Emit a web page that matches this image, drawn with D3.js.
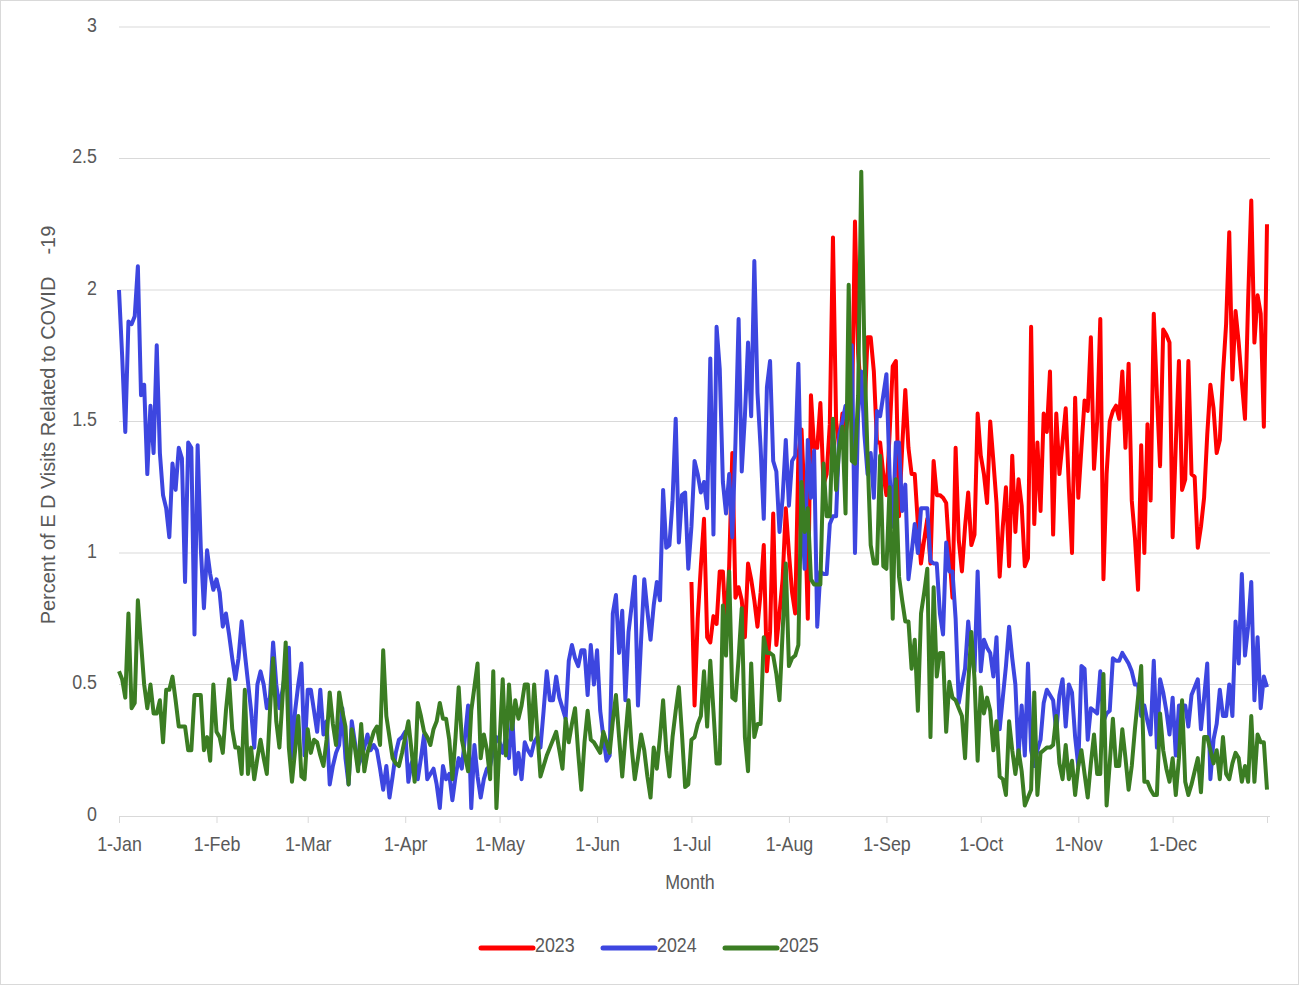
<!DOCTYPE html>
<html>
<head>
<meta charset="utf-8">
<script src="https://cdn.jsdelivr.net/npm/d3@7"></script>
<style>
  body { margin: 0; background: #fff; }
  svg text { font-family: "Liberation Sans", Arial, sans-serif; fill: #595959; }
</style>
</head>
<body>
<svg id="chart" width="1300" height="986"></svg>
<script>
// month ticks (day of year, leap-year axis)
const monthDays = [0, 31, 60, 91, 121, 152, 182, 213, 244, 274, 305, 335];
const monthLabels = ['1-Jan', '1-Feb', '1-Mar', '1-Apr', '1-May', '1-Jun', '1-Jul', '1-Aug', '1-Sep', '1-Oct', '1-Nov', '1-Dec'];
const yTicks = [0, 0.5, 1, 1.5, 2, 2.5, 3];

const seriesNames = ['2023', '2024', '2025'];
const seriesColors = ['#ff0000', '#3d46e0', '#3b7d23'];
// first day of year for each series
const seriesStart = [182, 0, 0];

// 2023: data begins 1-Jul
const values2023 = [
  0.89,0.42,0.75,0.95,1.13,0.68,0.66,0.76,0.73,0.93,
  0.93,0.70,0.95,1.38,0.83,0.87,0.82,0.68,0.96,0.90,
  0.82,0.72,0.85,1.03,0.55,0.70,1.15,0.65,0.77,0.90,
  1.17,1.00,0.85,0.77,1.37,1.47,1.19,0.75,1.60,1.40,
  1.40,1.57,1.26,1.30,1.49,2.20,1.50,1.40,1.53,1.45,
  1.55,1.50,2.26,1.76,1.60,1.53,1.82,1.82,1.69,1.42,
  1.42,1.30,1.22,1.45,1.71,1.73,1.14,1.40,1.62,1.40,
  1.30,1.30,1.11,0.96,1.05,1.13,0.96,1.35,1.22,1.22,
  1.21,1.19,1.00,0.83,1.40,1.05,0.93,1.10,1.23,1.03,
  1.07,1.53,1.37,1.30,1.19,1.50,1.35,1.19,0.91,1.10,
  1.25,0.95,1.37,1.08,1.28,1.18,0.95,0.98,1.86,1.11,
  1.42,1.16,1.53,1.46,1.69,1.07,1.53,1.30,1.42,1.55,
  1.25,1.00,1.59,1.21,1.40,1.58,1.54,1.82,1.32,1.50,
  1.89,0.90,1.30,1.50,1.54,1.56,1.51,1.69,1.40,1.72,
  1.20,1.06,0.86,1.41,1.00,1.49,1.20,1.91,1.60,1.33,
  1.85,1.83,1.80,1.06,1.41,1.73,1.24,1.28,1.73,1.30,
  1.29,1.02,1.10,1.21,1.45,1.64,1.55,1.38,1.43,1.68,
  1.87,2.22,1.66,1.92,1.80,1.65,1.51,1.96,2.34,1.80,
  1.98,1.91,1.48,2.25
];

const values2024 = [
  2.00,1.75,1.46,1.88,1.87,1.90,2.09,1.60,1.64,1.30,
  1.56,1.38,1.79,1.38,1.22,1.17,1.06,1.34,1.24,1.40,
  1.36,0.89,1.42,1.40,0.69,1.41,1.02,0.79,1.01,0.92,
  0.86,0.90,0.85,0.72,0.77,0.69,0.60,0.52,0.60,0.74,
  0.62,0.51,0.40,0.26,0.50,0.55,0.50,0.41,0.45,0.66,
  0.50,0.41,0.48,0.56,0.64,0.22,0.40,0.50,0.58,0.23,
  0.48,0.48,0.40,0.32,0.48,0.31,0.36,0.12,0.19,0.24,
  0.27,0.41,0.22,0.12,0.36,0.28,0.19,0.22,0.26,0.31,
  0.25,0.27,0.25,0.18,0.10,0.19,0.07,0.15,0.24,0.29,
  0.30,0.32,0.13,0.20,0.23,0.14,0.22,0.31,0.14,0.16,
  0.18,0.12,0.03,0.19,0.14,0.16,0.06,0.15,0.22,0.18,
  0.30,0.42,0.03,0.27,0.15,0.07,0.14,0.18,0.19,0.25,
  0.30,0.28,0.24,0.30,0.22,0.39,0.16,0.24,0.14,0.28,
  0.25,0.23,0.28,0.30,0.26,0.40,0.55,0.44,0.44,0.53,
  0.45,0.41,0.37,0.59,0.65,0.60,0.57,0.63,0.63,0.46,
  0.65,0.50,0.63,0.40,0.30,0.21,0.23,0.77,0.84,0.62,
  0.78,0.44,0.70,0.80,0.91,0.42,0.67,0.90,0.78,0.67,
  0.80,0.89,0.82,1.24,1.02,1.03,1.20,1.51,1.04,1.22,
  1.23,0.94,1.10,1.35,1.30,1.23,1.27,1.17,1.74,1.07,
  1.86,1.70,1.27,1.15,1.30,1.06,1.42,1.89,1.31,1.52,
  1.80,1.52,2.11,1.61,1.40,1.13,1.63,1.73,1.35,1.31,
  1.08,1.21,1.43,1.18,1.35,1.37,1.72,1.18,0.94,1.43,
  1.21,1.39,0.72,0.93,0.92,0.92,1.11,1.14,1.14,1.45,
  1.50,1.56,1.56,1.79,1.00,1.53,1.69,1.45,1.30,1.38,
  1.21,1.54,1.52,1.60,1.68,1.30,1.10,1.42,1.42,1.16,
  1.26,0.90,1.00,1.11,1.00,1.17,1.17,1.17,0.97,0.96,
  0.96,0.77,0.69,1.04,0.93,0.93,0.75,0.43,0.50,0.56,
  0.74,0.62,0.55,0.93,0.55,0.67,0.64,0.62,0.53,0.68,
  0.33,0.45,0.57,0.72,0.60,0.50,0.23,0.42,0.23,0.58,
  0.25,0.19,0.25,0.29,0.43,0.48,0.46,0.44,0.32,0.46,
  0.52,0.34,0.50,0.47,0.30,0.19,0.57,0.56,0.29,0.41,
  0.40,0.39,0.55,0.36,0.39,0.40,0.60,0.59,0.59,0.62,
  0.60,0.58,0.55,0.50,0.50,0.38,0.42,0.36,0.31,0.59,
  0.26,0.52,0.47,0.40,0.31,0.45,0.23,0.42,0.42,0.42,
  0.34,0.46,0.49,0.52,0.33,0.45,0.58,0.14,0.29,0.35,
  0.48,0.38,0.38,0.50,0.38,0.74,0.58,0.92,0.61,0.72,
  0.89,0.44,0.68,0.41,0.53,0.49
];

const values2025 = [
  0.55,0.52,0.45,0.77,0.41,0.43,0.82,0.66,0.50,0.41,
  0.50,0.39,0.39,0.44,0.28,0.48,0.48,0.53,0.44,0.34,
  0.34,0.34,0.25,0.25,0.46,0.46,0.46,0.25,0.30,0.21,
  0.50,0.32,0.30,0.24,0.40,0.52,0.33,0.26,0.26,0.16,
  0.48,0.16,0.26,0.14,0.22,0.29,0.22,0.16,0.40,0.60,
  0.36,0.26,0.45,0.66,0.26,0.13,0.25,0.38,0.15,0.14,
  0.33,0.24,0.29,0.28,0.23,0.19,0.29,0.47,0.35,0.27,
  0.47,0.40,0.34,0.12,0.33,0.26,0.17,0.35,0.17,0.24,
  0.28,0.32,0.34,0.27,0.63,0.38,0.30,0.22,0.20,0.19,
  0.24,0.30,0.36,0.25,0.13,0.43,0.38,0.32,0.30,0.27,
  0.33,0.36,0.43,0.37,0.37,0.29,0.14,0.30,0.49,0.29,
  0.23,0.17,0.40,0.49,0.58,0.22,0.31,0.25,0.14,0.55,
  0.03,0.28,0.52,0.23,0.50,0.33,0.44,0.37,0.42,0.50,
  0.50,0.29,0.50,0.32,0.15,0.19,0.23,0.26,0.29,0.32,
  0.25,0.18,0.37,0.28,0.35,0.41,0.24,0.10,0.28,0.40,
  0.29,0.28,0.26,0.24,0.32,0.28,0.24,0.36,0.46,0.30,
  0.15,0.30,0.44,0.26,0.14,0.22,0.31,0.25,0.15,0.07,
  0.26,0.18,0.30,0.44,0.25,0.15,0.30,0.40,0.49,0.31,
  0.11,0.12,0.29,0.30,0.35,0.38,0.55,0.34,0.59,0.40,
  0.20,0.20,0.80,0.61,0.93,0.45,0.44,0.60,0.79,0.30,
  0.17,0.58,0.30,0.35,0.35,0.68,0.62,0.62,0.61,0.54,
  0.44,0.70,0.96,0.57,0.60,0.61,0.65,1.27,1.08,1.17,
  0.90,0.88,0.88,0.88,1.34,1.14,1.14,1.51,1.24,1.40,
  1.48,1.15,2.02,1.35,1.34,1.60,2.45,1.76,1.37,1.03,
  0.96,0.96,1.37,0.95,0.94,1.25,0.75,1.28,0.91,0.82,
  0.74,0.74,0.56,0.67,0.40,0.77,0.85,0.94,0.30,0.87,
  0.53,0.62,0.62,0.32,0.51,0.45,0.44,0.41,0.38,0.22,
  0.50,0.70,0.52,0.21,0.49,0.39,0.45,0.40,0.25,0.36,
  0.15,0.14,0.08,0.36,0.25,0.16,0.25,0.17,0.04,0.07,
  0.10,0.47,0.08,0.24,0.25,0.26,0.26,0.27,0.38,0.20,
  0.14,0.27,0.14,0.21,0.08,0.19,0.25,0.16,0.07,0.20,
  0.31,0.16,0.16,0.54,0.04,0.20,0.37,0.19,0.19,0.33,
  0.22,0.10,0.19,0.33,0.45,0.57,0.13,0.13,0.10,0.08,
  0.08,0.39,0.25,0.18,0.13,0.22,0.08,0.22,0.44,0.13,
  0.08,0.12,0.17,0.22,0.09,0.30,0.30,0.25,0.20,0.25,
  0.14,0.30,0.16,0.14,0.20,0.24,0.22,0.13,0.19,0.13,
  0.38,0.13,0.31,0.28,0.28,0.10
];

const seriesValues = [values2023, values2024, values2025];

const FONT_SIZE = 21;
const NARROW = 'scale(0.85,1)';   // mimic the narrow font of the original

const svg = d3.select('#chart');

// outer frame
svg.append('rect')
    .attr('x', 0.5).attr('y', 0.5)
    .attr('width', 1298).attr('height', 984)
    .attr('fill', '#fff')
    .attr('stroke', '#d9d9d9');

const xScale = d3.scaleLinear().domain([0, 365]).range([119, 1267]);
const yScale = d3.scaleLinear().domain([0, 3]).range([816, 27]);

renderAxes();
renderLines();
renderLegend();

function narrowText(x, y, str, anchor, rotate, squeeze) {
    const g = svg.append('g')
        .attr('transform', `translate(${x},${y})` + (rotate ? ` rotate(${rotate})` : ''));
    return g.append('text')
        .attr('transform', squeeze || NARROW)
        .attr('text-anchor', anchor)
        .attr('font-size', FONT_SIZE)
        .style('white-space', 'pre')
        .text(str);
}

function renderAxes() {
    // horizontal gridlines
    svg.append('g')
        .selectAll('line')
        .data(yTicks.filter(t => t > 0))
        .join('line')
        .attr('x1', 119).attr('x2', 1270)
        .attr('y1', d => yScale(d)).attr('y2', d => yScale(d))
        .attr('stroke', '#d9d9d9')
        .attr('stroke-width', 1);

    const yAxis = d3.axisLeft(yScale).tickValues(yTicks).tickSize(0).tickPadding(0).tickFormat(d3.format('~g'));
    const yG = svg.append('g')
        .attr('transform', 'translate(97,0)')
        .call(yAxis);
    yG.select('.domain').remove();
    yG.selectAll('text')
        .attr('font-size', FONT_SIZE)
        .attr('x', 0)
        .attr('dy', 4)
        .attr('transform', NARROW);

    const xAxis = d3.axisBottom(xScale)
        .tickValues(monthDays.concat([365]))
        .tickSize(7)
        .tickFormat((d, i) => monthLabels[i] || '');
    const xG = svg.append('g')
        .attr('transform', `translate(0,${yScale(0)})`)
        .call(xAxis);
    xG.select('.domain').attr('stroke', '#d9d9d9').attr('d', 'M119,0.5H1270');
    xG.selectAll('.tick line').attr('stroke', '#d9d9d9');
    xG.selectAll('text')
        .attr('font-size', FONT_SIZE)
        .attr('y', 35)
        .attr('dy', 0)
        .attr('transform', NARROW);
    xG.attr('font-family', null);
    yG.attr('font-family', null);

    narrowText(690, 889, 'Month', 'middle');
    narrowText(55, 425, 'Percent of E D Visits Related to COVID    -19', 'middle', -90, 'scale(0.95,1)');
}

function renderLines() {
    seriesValues.forEach((vals, s) => {
        const line = d3.line()
            .x((d, i) => xScale(seriesStart[s] + i))
            .y(d => yScale(d));
        svg.append('path')
            .attr('d', line(vals))
            .attr('fill', 'none')
            .attr('stroke', seriesColors[s])
            .attr('stroke-width', 4)
            .attr('stroke-linejoin', 'round');
    });
}

function renderLegend() {
    const legendX = [481, 603, 725];
    seriesNames.forEach((name, i) => {
        svg.append('line')
            .attr('x1', legendX[i]).attr('x2', legendX[i] + 52)
            .attr('y1', 948).attr('y2', 948)
            .attr('stroke', seriesColors[i])
            .attr('stroke-width', 5)
            .attr('stroke-linecap', 'round');
        narrowText(legendX[i] + 54, 952, name, 'start');
    });
}
</script>
</body>
</html>
